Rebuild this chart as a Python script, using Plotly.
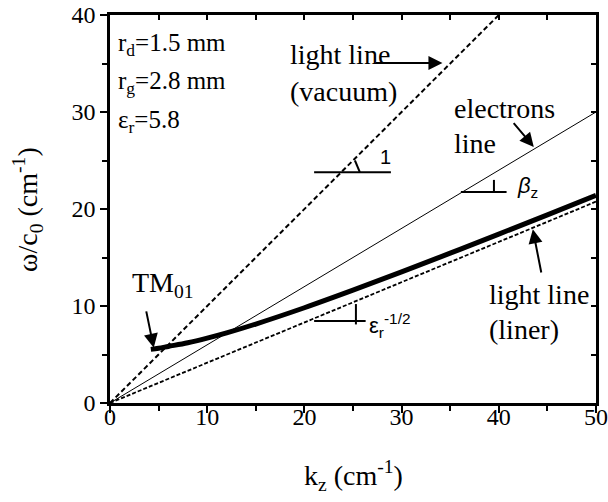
import plotly.graph_objects as go

# ---- data ----
kz_tm01 = [4.2, 5, 6, 8, 10, 12, 15, 20, 25, 30, 35, 40, 45, 50]
w_tm01 = [5.53, 5.64, 5.83, 6.21, 6.69, 7.23, 8.14, 9.82, 11.63, 13.51, 15.45, 17.41, 19.40, 21.40]

kz_vac = [0, 40]
w_vac = [0, 40]

kz_el = [0, 50]
w_el = [0, 30]

kz_liner = [0, 50]
w_liner = [0, 20.76]

xticks = [0, 10, 20, 30, 40, 50]
yticks = [0, 10, 20, 30, 40]

SERIF = "Liberation Serif"
SANS = "Liberation Sans"

fig = go.Figure()
fig.add_trace(go.Scatter(x=kz_vac, y=w_vac, mode="lines",
                         line=dict(color="black", width=2, dash="5px,3px"), showlegend=False))
fig.add_trace(go.Scatter(x=kz_el, y=w_el, mode="lines",
                         line=dict(color="black", width=1), showlegend=False))
fig.add_trace(go.Scatter(x=kz_liner, y=w_liner, mode="lines",
                         line=dict(color="black", width=1.8, dash="4px,2px"), showlegend=False))
fig.add_trace(go.Scatter(x=kz_tm01, y=w_tm01, mode="lines",
                         line=dict(color="black", width=5, shape="spline"), showlegend=False))
fig.add_trace(go.Scatter(x=[None], y=[None], xaxis="x2", yaxis="y2", showlegend=False,
                         hoverinfo="skip"))
fig.add_trace(go.Scatter(x=[None], y=[None], xaxis="x3", yaxis="y", showlegend=False,
                         hoverinfo="skip"))

axis_common = dict(showgrid=False, zeroline=False, showline=True, linecolor="black",
                   linewidth=2.5, tickcolor="black", tickwidth=2, automargin=False)

fig.update_layout(
    width=608, height=502,
    margin=dict(l=110, r=12, t=15, b=99),
    plot_bgcolor="white", paper_bgcolor="white",
    # bottom axis: labels only, placed so they sit close to the axis line
    xaxis=dict(range=[0, 50], tickvals=xticks, ticks="", anchor="free", position=0.007,
               showgrid=False, zeroline=False, showline=False, automargin=False,
               tickfont=dict(family=SERIF, size=24, color="black")),
    xaxis3=dict(range=[0, 50], overlaying="x", side="bottom", anchor="y", tickvals=xticks,
                ticks="outside", ticklen=7, showticklabels=False,
                minor=dict(dtick=5, tick0=0, ticks="outside", ticklen=5, tickwidth=2, tickcolor="black"),
                **axis_common),
    yaxis=dict(range=[0, 40], tickvals=yticks, ticks="outside", ticklen=7,
               minor=dict(dtick=5, tick0=0, ticks="outside", ticklen=5, tickwidth=2, tickcolor="black"),
               tickfont=dict(family=SERIF, size=24, color="black"), **axis_common),
    xaxis2=dict(range=[0, 50], overlaying="x", side="top", anchor="y2", dtick=5, tick0=0,
                ticks="inside", ticklen=5, showticklabels=False, **axis_common),
    yaxis2=dict(range=[0, 40], overlaying="y", side="right", anchor="x2", dtick=5, tick0=0,
                ticks="inside", ticklen=5, showticklabels=False, **axis_common),
)

ann = []
def txt(x, y, text, size=28, family=SERIF, xanchor="left", yanchor="middle"):
    ann.append(dict(x=x, y=y, xref="x", yref="y", text=text, showarrow=False,
                    xanchor=xanchor, yanchor=yanchor,
                    font=dict(family=family, size=size, color="black")))

def arrow(x, y, ax, ay):
    ann.append(dict(x=x, y=y, ax=ax, ay=ay, xref="x", yref="y", axref="x", ayref="y",
                    text="", showarrow=True, arrowhead=2, arrowsize=1.4, arrowwidth=2,
                    arrowcolor="black"))

txt(0.6, 37.0, "r<sub>d</sub>=1.5 mm", size=25)
txt(0.6, 33.0, "r<sub>g</sub>=2.8 mm", size=25)
txt(0.6, 29.0, "ε<sub>r</sub>=5.8", size=25)
txt(18.3, 35.9, "light line")
txt(18.3, 32.1, "(vacuum)")
txt(35.2, 30.4, "electrons")
txt(35.2, 26.8, "line")
txt(38.8, 11.2, "light line")
txt(38.8, 7.6, "(liner)")
txt(2.1, 12.2, "TM<sub>01</sub>")
txt(27.6, 25.4, "1", size=20, family=SANS)
txt(41.7, 22.3, "<i>β</i><sub>z</sub>", size=22, family=SANS)
txt(26.4, 8.0, "ε<sub>r</sub><sup>-1/2</sup>", size=22, family=SANS)

arrow(34.2, 35.05, 27.2, 35.05)
arrow(43.6, 26.4, 41.4, 29.0)
arrow(43.5, 17.9, 44.4, 13.3)
arrow(4.5, 5.7, 3.7, 9.6)

# axis titles
ann.append(dict(x=0.5, y=-0.186, xref="paper", yref="paper", showarrow=False,
                text="k<sub>z</sub> (cm<sup>-1</sup>)", xanchor="center", yanchor="middle",
                font=dict(family=SERIF, size=28, color="black")))
ann.append(dict(x=-0.171, y=0.5, xref="paper", yref="paper", showarrow=False, textangle=-90,
                text="ω/c<sub>0</sub> (cm<sup>-1</sup>)", xanchor="center", yanchor="middle",
                font=dict(family=SERIF, size=28, color="black")))
fig.update_layout(annotations=ann)

shapes = []
def seg(x0, y0, x1, y1, w=2):
    shapes.append(dict(type="line", xref="x", yref="y", x0=x0, y0=y0, x1=x1, y1=y1,
                       line=dict(color="black", width=w)))
seg(21.0, 23.8, 28.9, 23.8)
seg(25.7, 23.8, 25.2, 25.0)
seg(36.1, 21.75, 40.8, 21.75)
seg(39.5, 21.75, 39.5, 23.0)
seg(21.0, 8.45, 26.3, 8.45)
seg(25.3, 8.1, 25.3, 10.2)
fig.update_layout(shapes=shapes)

fig.write_html("out.html")
